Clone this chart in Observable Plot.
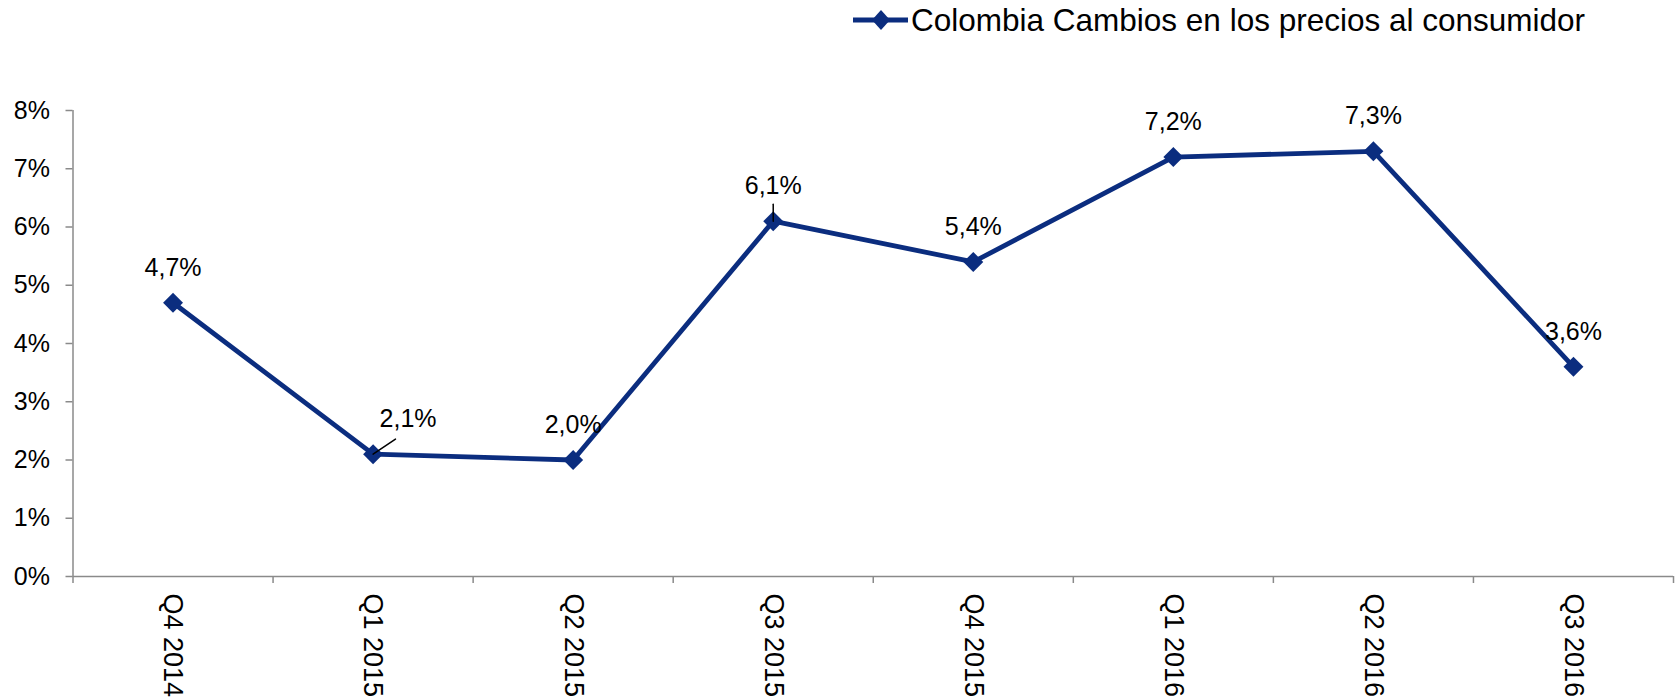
<!DOCTYPE html>
<html>
<head>
<meta charset="utf-8">
<script src="https://cdn.jsdelivr.net/npm/d3@7"></script>
<script src="https://cdn.jsdelivr.net/npm/@observablehq/plot@0.6"></script>
<style>
  html, body { margin: 0; padding: 0; background: #fff; overflow: hidden; }
  #legend { display: block; height: 50px; width: 1679px; }
  #legend text { font-family: "Liberation Sans", Arial, sans-serif; }
  #chart svg { display: block; font-family: "Liberation Sans", Arial, sans-serif; }
</style>
</head>
<body>
<svg id="legend" width="1679" height="50">
  <line x1="853" x2="908" y1="20" y2="20" stroke="#0b2d7f" stroke-width="5"></line>
  <path d="M881,10 L890,20 L881,30 L872,20 Z" fill="#0b2d7f"></path>
  <text x="911" y="31" font-size="31.5" fill="#000"></text>
</svg>
<div id="chart"></div>
<script>
// Quarterly consumer price changes, Colombia
const seriesName = "Colombia Cambios en los precios al consumidor";
const quarters = ["Q4 2014", "Q1 2015", "Q2 2015", "Q3 2015", "Q4 2015", "Q1 2016", "Q2 2016", "Q3 2016"];
const cambios = [4.7, 2.1, 2.0, 6.1, 5.4, 7.2, 7.3, 3.6];
const yTicks = [0, 1, 2, 3, 4, 5, 6, 7, 8];

const navy = "#0b2d7f";
const axisGray = "#8a8a8a";

document.querySelector("#legend text").textContent = seriesName;

const data = quarters.map((q, i) => ({i, quarter: q, value: cambios[i]}));
const fmt = v => v.toFixed(1).replace(".", ",") + "%";

// category boundaries, where the x-axis tick marks sit
const bounds = d3.range(quarters.length + 1).map(k => k - 0.5);

const leaderShape = {
  draw(context, l) {
    context.moveTo(0, 0);
    context.lineTo(0, -l);
  }
};

const chart = Plot.plot({
  width: 1679,
  height: 647,
  marginTop: 60,
  marginBottom: 121,
  marginLeft: 72.5,
  marginRight: 6,
  style: {fontSize: "25px", color: "#000", background: "#fff"},
  x: {domain: [-0.5, quarters.length - 0.5], axis: null},
  y: {domain: [0, 8], axis: null},
  marks: [
    // axis lines
    Plot.ruleX([-0.5], {y1: 0, y2: 8, stroke: axisGray, strokeWidth: 1.5}),
    Plot.ruleY([0], {stroke: axisGray, strokeWidth: 1.5}),
    // y axis
    Plot.axisY(yTicks, {
      label: null, tickSize: 7, tickPadding: 16, stroke: axisGray, strokeWidth: 1.5,
      tickFormat: d => d + "%", fill: "#000", fontSize: 25
    }),
    // x tick marks at category boundaries
    Plot.axisX(bounds, {label: null, tickSize: 7, tickFormat: () => "", stroke: axisGray, strokeWidth: 1.5}),
    // x category labels, rotated
    Plot.axisX(d3.range(quarters.length), {
      label: null, tickSize: 0, tickPadding: 17, tickRotate: 90,
      tickFormat: i => quarters[i], fill: "#000", fontSize: 27
    }),
    // series
    Plot.line(data, {x: "i", y: "value", stroke: navy, strokeWidth: 4.8}),
    Plot.dot(data, {x: "i", y: "value", symbol: "diamond2", r: 9, fill: navy, stroke: "none"}),
    // leader lines for shifted labels
    Plot.vector(data, {
      filter: d => d.quarter === "Q1 2015",
      x: "i", y: "value", anchor: "start", length: 27, rotate: 56,
      shape: leaderShape, stroke: "#000", strokeWidth: 1.5
    }),
    Plot.vector(data, {
      filter: d => d.quarter === "Q3 2015",
      x: "i", y: "value", anchor: "start", length: 17, rotate: 0,
      shape: leaderShape, stroke: "#000", strokeWidth: 1.5
    }),
    // value labels
    Plot.text(data, {
      filter: d => d.quarter !== "Q1 2015",
      x: "i", y: "value", text: d => fmt(d.value), dy: -35, fill: "#000", fontSize: 25
    }),
    Plot.text(data, {
      filter: d => d.quarter === "Q1 2015",
      x: "i", y: "value", text: d => fmt(d.value), dy: -35, dx: 35, fill: "#000", fontSize: 25
    })
  ]
});

document.getElementById("chart").appendChild(chart);
</script>
</body>
</html>
